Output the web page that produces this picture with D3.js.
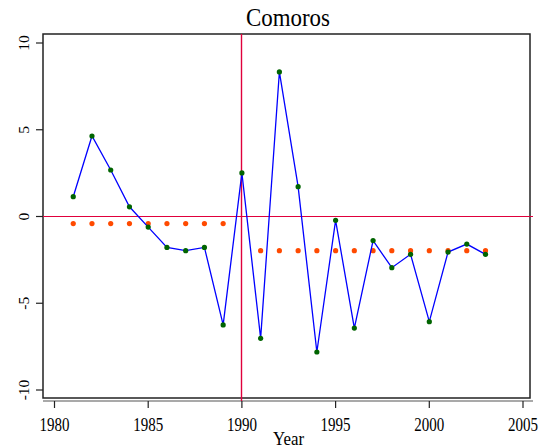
<!DOCTYPE html>
<html>
<head>
<meta charset="utf-8">
<script src="https://cdn.jsdelivr.net/npm/d3@7"></script>
<style>
  html, body { margin: 0; padding: 0; background: #fff; }
  svg { display: block; }
  text { font-family: "Liberation Serif", "Times New Roman", serif; fill: #000; }
</style>
</head>
<body>
<svg id="chart" width="550" height="448"></svg>
<script>
// ---- data ----
const years = [1981,1982,1983,1984,1985,1986,1987,1988,1989,1990,1991,1992,1993,1994,1995,1996,1997,1998,1999,2000,2001,2002,2003];
const values = [1.14,4.64,2.68,0.56,-0.61,-1.78,-1.97,-1.78,-6.25,2.51,-7.02,8.33,1.72,-7.81,-0.22,-6.43,-1.39,-2.95,-2.18,-6.06,-2.05,-1.59,-2.18];
const meanYearsPre = [1981,1982,1983,1984,1985,1986,1987,1988,1989];
const meanPre = -0.41;
const meanYearsPost = [1991,1992,1993,1994,1995,1996,1997,1998,1999,2000,2001,2002,2003];
const meanPost = -1.97;
const xTicks = [1980,1985,1990,1995,2000,2005];
const yTicks = [-10,-5,0,5,10];
const breakYear = 1990;
const title = "Comoros";
const xTitle = "Year";

// ---- layout ----
const frame = {left: 43, right: 530, top: 34, bottom: 398};
const axisY = 401;
const svg = d3.select("#chart");

const x = d3.scaleLinear().domain([1980, 2005]).range([54.5, 523]);
const y = d3.scaleLinear().domain([-10, 10]).range([390, 43]);
const crisp = v => Math.round(v - 0.5) + 0.5;

// frame
svg.append("rect")
  .attr("x", frame.left).attr("y", frame.top)
  .attr("width", frame.right - frame.left).attr("height", frame.bottom - frame.top)
  .attr("fill", "none").attr("stroke", "#222").attr("stroke-width", 1.5);

// y axis ticks + labels
const yg = svg.append("g");
yTicks.forEach(t => {
  yg.append("line")
    .attr("x1", frame.left - 7).attr("x2", frame.left)
    .attr("y1", y(t)).attr("y2", y(t))
    .attr("stroke", "#222").attr("stroke-width", 1.2);
  yg.append("text")
    .attr("transform", `translate(28.5,${y(t)}) rotate(-90)`)
    .attr("text-anchor", "middle")
    .style("font-size", "15.5px")
    .text(t);
});

// x axis line, ticks + labels
const xg = svg.append("g");
xg.append("line")
  .attr("x1", frame.left).attr("x2", 533)
  .attr("y1", axisY).attr("y2", axisY)
  .attr("stroke", "#555").attr("stroke-width", 1.2);
xTicks.forEach(t => {
  xg.append("line")
    .attr("x1", x(t)).attr("x2", x(t))
    .attr("y1", axisY).attr("y2", axisY + 7)
    .attr("stroke", "#222").attr("stroke-width", 1.2);
  xg.append("text")
    .attr("x", x(t)).attr("y", 431)
    .attr("text-anchor", "middle")
    .attr("textLength", 30).attr("lengthAdjust", "spacingAndGlyphs")
    .style("font-size", "19px")
    .text(t);
});

// reference lines
const red = "#e0003c";
svg.append("line")
  .attr("x1", crisp(x(breakYear))).attr("x2", crisp(x(breakYear)))
  .attr("y1", frame.top).attr("y2", axisY)
  .attr("stroke", red).attr("stroke-width", 1.4);
svg.append("line")
  .attr("x1", frame.left).attr("x2", 533)
  .attr("y1", crisp(y(0))).attr("y2", crisp(y(0)))
  .attr("stroke", red).attr("stroke-width", 1.2);

// mean dots
const orange = "#ff4a00";
svg.append("g").selectAll("circle.pre")
  .data(meanYearsPre).join("circle")
  .attr("cx", d => x(d)).attr("cy", y(meanPre)).attr("r", 2.6)
  .attr("fill", orange);
svg.append("g").selectAll("circle.post")
  .data(meanYearsPost).join("circle")
  .attr("cx", d => x(d)).attr("cy", y(meanPost)).attr("r", 2.6)
  .attr("fill", orange);

// series line
const pts = years.map((yr, i) => [yr, values[i]]);
svg.append("path")
  .datum(pts)
  .attr("d", d3.line().x(d => x(d[0])).y(d => y(d[1])))
  .attr("fill", "none").attr("stroke", "#0000ff").attr("stroke-width", 1.3);

svg.append("g").selectAll("circle")
  .data(pts).join("circle")
  .attr("cx", d => x(d[0])).attr("cy", d => y(d[1])).attr("r", 2.6)
  .attr("fill", "#006400");

// titles
svg.append("text")
  .attr("x", 288).attr("y", 26)
  .attr("text-anchor", "middle")
  .attr("textLength", 84).attr("lengthAdjust", "spacingAndGlyphs")
  .style("font-size", "25px")
  .text(title);
svg.append("text")
  .attr("x", 288.5).attr("y", 445)
  .attr("text-anchor", "middle")
  .attr("textLength", 31).attr("lengthAdjust", "spacingAndGlyphs")
  .style("font-size", "19px")
  .text(xTitle);
</script>
</body>
</html>
